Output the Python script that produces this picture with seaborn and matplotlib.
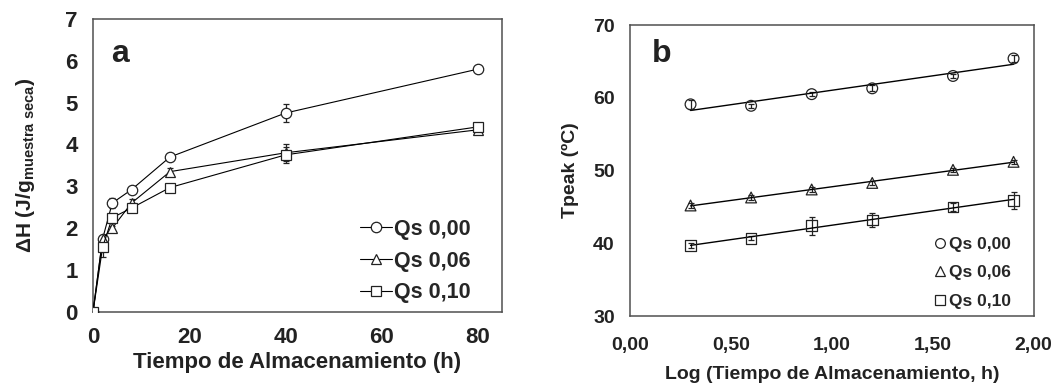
import numpy as np
import pandas as pd
import matplotlib
matplotlib.use("Agg")
import matplotlib.pyplot as plt
import seaborn as sns
from matplotlib.lines import Line2D

# ---------------- data ----------------
series = ["Qs 0,00", "Qs 0,06", "Qs 0,10"]
markers = ["o", "^", "s"]

# panel a
time_h = [0, 2, 4, 8, 16, 40, 80]
dh_000 = [0.0, 1.75, 2.60, 2.92, 3.70, 4.75, 5.80]
dh_006 = [0.0, 1.75, 2.00, 2.60, 3.35, 3.80, 4.35]
dh_010 = [0.0, 1.55, 2.25, 2.48, 2.97, 3.75, 4.42]
err_000 = [0.0, 0.05, 0.12, 0.06, 0.08, 0.22, 0.04]
err_006 = [0.0, 0.05, 0.06, 0.10, 0.08, 0.20, 0.04]
err_010 = [0.0, 0.25, 0.08, 0.06, 0.06, 0.20, 0.04]

# panel b
log_t = [0.30, 0.60, 0.90, 1.20, 1.60, 1.90]
tp_000 = [59.1, 58.9, 60.5, 61.3, 63.0, 65.4]
tp_006 = [45.2, 46.3, 47.4, 48.3, 50.1, 51.2]
tp_010 = [39.7, 40.7, 42.4, 43.2, 45.0, 45.9]
terr_000 = [0.6, 0.3, 0.3, 0.4, 0.3, 0.5]
terr_006 = [0.3, 0.3, 0.3, 0.3, 0.3, 0.3]
terr_010 = [0.3, 0.3, 1.2, 1.0, 0.6, 1.2]

sns.set_theme(style="white")
plt.rcParams["font.family"] = ["Liberation Sans", "DejaVu Sans"]
plt.rcParams["mathtext.fontset"] = "custom"
plt.rcParams["mathtext.rm"] = "Liberation Sans"
plt.rcParams["mathtext.bf"] = "Liberation Sans:bold"
plt.rcParams["mathtext.it"] = "Liberation Sans:italic"

fig = plt.figure(figsize=(10.57, 3.85), dpi=100)
ax1 = fig.add_axes([0.088, 0.190, 0.387, 0.761])
ax2 = fig.add_axes([0.596, 0.179, 0.382, 0.756])

ink = "#222222"
spine_col = "#505050"
for ax in (ax1, ax2):
    for s in ax.spines.values():
        s.set_color(spine_col)
        s.set_linewidth(1.1)
ax1.tick_params(length=0, axis="y", pad=11)
ax1.tick_params(length=0, axis="x", pad=11)
ax2.tick_params(length=0, axis="y", pad=11)
ax2.tick_params(length=0, axis="x", pad=15)

# ---------- panel a ----------
ya = [dh_000, dh_006, dh_010]
ea = [err_000, err_006, err_010]
for name, m, y, e in zip(series, markers, ya, ea):
    ax1.errorbar(time_h, y, yerr=e, fmt="none", ecolor=ink,
                 elinewidth=0.9, capsize=2.5, capthick=0.9, zorder=2)
    sns.lineplot(x=time_h, y=y, ax=ax1, color="black", linewidth=0.8,
                 marker=m, markersize=7.5, markerfacecolor="white",
                 markeredgecolor=ink, markeredgewidth=0.9,
                 label=name, zorder=3)
ax1.set_xlim(0, 85)
ax1.set_ylim(0, 7)
ax1.set_xticks([0, 20, 40, 60, 80])
ax1.set_yticks(range(0, 8))
for lab in ax1.get_xticklabels() + ax1.get_yticklabels():
    lab.set_fontsize(16)
    lab.set_fontweight("bold")
    lab.set_color(ink)
ax1.set_xlabel("Tiempo de Almacenamiento (h)", fontsize=16,
               fontweight="bold", color=ink, labelpad=3)
ax1.set_ylabel(r"ΔH (J/g$_{\mathbf{muestra\ seca}}$)", fontsize=15,
               fontweight="bold", color=ink, labelpad=20)
ax1.text(0.045, 0.88, "a", transform=ax1.transAxes, fontsize=23,
         fontweight="bold", color=ink, va="center", ha="left")
ax1.legend(loc="lower right", bbox_to_anchor=(0.955, -0.015), frameon=False,
           prop={"size": 15.5, "weight": "bold"}, handlelength=1.5,
           handletextpad=0.1, labelspacing=0.5, borderaxespad=0.2)

# ---------- panel b ----------
yb = [tp_000, tp_006, tp_010]
eb = [terr_000, terr_006, terr_010]
for name, m, y, e in zip(series, markers, yb, eb):
    ax2.errorbar(log_t, y, yerr=e, fmt="none", ecolor=ink,
                 elinewidth=0.9, capsize=2.5, capthick=0.9, zorder=2)
    sns.regplot(x=np.array(log_t), y=np.array(y), ax=ax2, scatter=False,
                ci=None, color="black", line_kws={"linewidth": 1.0})
    sns.scatterplot(x=log_t, y=y, ax=ax2, marker=m, s=60,
                    facecolor="none", edgecolor=ink, linewidth=0.9,
                    zorder=3)
ax2.set_xlim(0, 2)
ax2.set_ylim(30, 70)
ax2.set_xticks([0, 0.5, 1.0, 1.5, 2.0])
ax2.set_xticklabels(["0,00", "0,50", "1,00", "1,50", "2,00"])
ax2.set_yticks([30, 40, 50, 60, 70])
for lab in ax2.get_xticklabels() + ax2.get_yticklabels():
    lab.set_fontsize(14)
    lab.set_fontweight("bold")
    lab.set_color(ink)
ax2.set_xlabel("Log (Tiempo de Almacenamiento, h)", fontsize=14,
               fontweight="bold", color=ink, labelpad=9)
ax2.set_ylabel("Tpeak (ºC)", fontsize=14, fontweight="bold",
               color=ink, labelpad=10)
ax2.text(0.055, 0.90, "b", transform=ax2.transAxes, fontsize=23,
         fontweight="bold", color=ink, va="center", ha="left")
handles = [Line2D([], [], linestyle="none", marker=m, markersize=7,
                  markerfacecolor="white", markeredgecolor=ink,
                  markeredgewidth=0.9) for m in markers]
ax2.legend(handles, series, loc="lower right", bbox_to_anchor=(0.97, -0.01),
           frameon=False, prop={"size": 12.5, "weight": "bold"},
           handlelength=0.8, handletextpad=0.15, labelspacing=0.75,
           borderaxespad=0.2)

fig.savefig("out.png", dpi=100)
